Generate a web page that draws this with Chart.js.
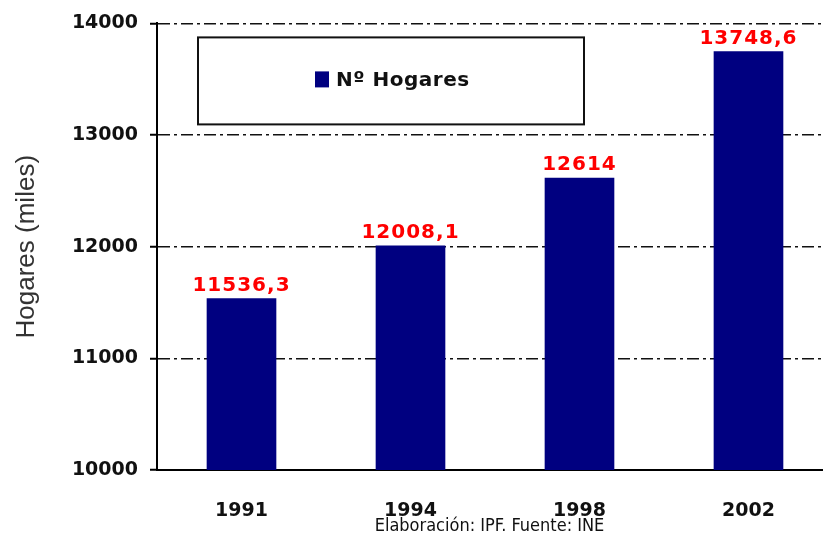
<!DOCTYPE html>
<html>
<head>
<meta charset="utf-8">
<script src="https://cdn.jsdelivr.net/npm/chart.js@4.4.1/dist/chart.umd.min.js"></script>
<style>
  html, body { margin: 0; padding: 0; background: #fff; overflow: hidden; }
  #wrap { width: 831px; height: 537px; position: relative; }
</style>
</head>
<body>
<div id="wrap"><canvas id="c" width="831" height="537"></canvas></div>
<script>
// ---- data ----
const years = ['1991', '1994', '1998', '2002'];
const hogares = [11536.3, 12008.1, 12614, 13748.6];
const valueLabels = ['11536,3', '12008,1', '12614', '13748,6'];
const yTicks = [10000, 11000, 12000, 13000, 14000];
const seriesName = 'Nº Hogares';
const yTitle = 'Hogares (miles)';
const sourceNote = 'Elaboración: IPF. Fuente: INE';

const NAVY = '#000080';

const valueLabelPlugin = {
  id: 'valueLabels',
  afterDatasetsDraw(chart) {
    const ctx = chart.ctx;
    const meta = chart.getDatasetMeta(0);
    ctx.save();
    ctx.font = 'bold 20px "DejaVu Sans"';
    ctx.fillStyle = '#ff0000';
    ctx.textAlign = 'center';
    ctx.textBaseline = 'bottom';
    try { ctx.letterSpacing = '1px'; } catch (e) {}
    meta.data.forEach((bar, i) => {
      ctx.fillText(valueLabels[i], bar.x, bar.y - 3);
    });
    ctx.restore();
  }
};

const boxLegendPlugin = {
  id: 'boxLegend',
  afterDraw(chart) {
    const ctx = chart.ctx;
    const a = chart.chartArea;
    const bx = a.left + 41, by = a.top + 14, bw = 386, bh = 87;
    ctx.save();
    ctx.fillStyle = '#fff';
    ctx.fillRect(bx, by, bw, bh);
    ctx.strokeStyle = '#111';
    ctx.lineWidth = 2;
    ctx.strokeRect(bx, by, bw, bh);
    const ds = chart.data.datasets[0];
    ctx.fillStyle = ds.backgroundColor;
    ctx.fillRect(bx + 117, by + 34, 14, 16);
    ctx.fillStyle = '#111';
    ctx.font = 'bold 20px "DejaVu Sans"';
    ctx.textAlign = 'left';
    ctx.textBaseline = 'middle';
    try { ctx.letterSpacing = '0.5px'; } catch (e) {}
    ctx.fillText(ds.label, bx + 138, by + 43);
    ctx.restore();
  }
};

new Chart(document.getElementById('c'), {
  type: 'bar',
  data: {
    datasets: [{
      label: seriesName,
      data: hogares.map((v, i) => ({ x: i, y: v })),
      backgroundColor: NAVY,
      borderWidth: 0,
      barThickness: 69
    }]
  },
  options: {
    responsive: false,
    animation: false,
    devicePixelRatio: 1,
    layout: { padding: { left: 0, right: 9, top: 22, bottom: 0 } },
    plugins: {
      legend: { display: false },
      tooltip: { enabled: false }
    },
    scales: {
      x: {
        type: 'linear',
        offset: false,
        min: -0.5,
        max: 3.435,
        afterBuildTicks(scale) { scale.ticks = years.map((_, i) => ({ value: i })); },
        afterFit(scale) { scale.height = 67; },
        grid: { display: false, offset: false },
        border: { display: true, color: '#000', width: 2 },
        ticks: {
          callback: (v) => years[v] !== undefined ? years[v] : '',
          color: '#111',
          font: { family: 'DejaVu Sans', size: 19, weight: 'bold', lineHeight: 1.2 },
          padding: 22,
          maxRotation: 0,
          autoSkip: false
        },
        title: {
          display: true,
          text: sourceNote,
          color: '#111',
          font: { family: 'DejaVu Sans Condensed', size: 18, lineHeight: 1.2 },
          padding: { top: 0, bottom: 0 }
        }
      },
      y: {
        min: 10000,
        max: 14000,
        afterBuildTicks(scale) { scale.ticks = yTicks.map(v => ({ value: v })); },
        afterFit(scale) { scale.width = 157; },
        grid: {
          color: '#111',
          lineWidth: 1.5,
          tickLength: 7,
          tickColor: '#000',
          tickWidth: 2
        },
        border: { display: true, color: '#000', width: 2, dash: [12, 4, 3, 4] },
        ticks: {
          color: '#111',
          font: { family: 'DejaVu Sans', size: 19, weight: 'bold' },
          padding: 12,
          callback: (v) => String(v)
        },
        title: {
          display: true,
          text: yTitle,
          color: '#333',
          font: { family: 'Liberation Sans', size: 26, lineHeight: 1.2 },
          padding: { top: 11, bottom: 0 }
        }
      }
    }
  },
  plugins: [valueLabelPlugin, boxLegendPlugin]
});
</script>
</body>
</html>
